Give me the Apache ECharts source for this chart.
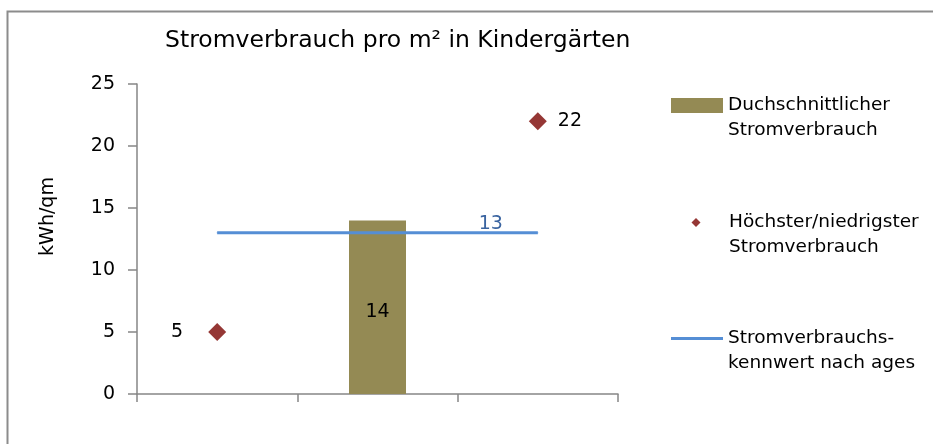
<!DOCTYPE html>
<html>
<head>
<meta charset="utf-8">
<script src="https://cdn.jsdelivr.net/npm/echarts@6/dist/echarts.min.js"></script>
<style>
  html, body { margin: 0; padding: 0; background: #fff; }
  #chart { width: 933px; height: 444px; }
</style>
</head>
<body>
<div id="chart"></div>
<script>
// Categories along the x axis (labels are not shown)
const categories = ['Niedrigster', 'Durchschnitt', 'Höchster'];
// Average consumption (bar), kWh/qm
const averageValues = ['-', 14, '-'];
// Lowest / highest consumption (diamonds), kWh/qm
const extremeValues = [5, '-', 22];
// Benchmark value drawn as a horizontal line
const benchmarkValues = [13, 13, 13];
// Y axis range
const yMin = 0, yMax = 25, yStep = 5;

const seriesNames = [
  'Duchschnittlicher Stromverbrauch',
  'Höchster/niedrigster Stromverbrauch',
  'Stromverbrauchs-kennwert nach ages'
];
const legendLines = {
  'Duchschnittlicher Stromverbrauch': ['Duchschnittlicher', 'Stromverbrauch'],
  'Höchster/niedrigster Stromverbrauch': ['Höchster/niedrigster', 'Stromverbrauch'],
  'Stromverbrauchs-kennwert nach ages': ['Stromverbrauchs-', 'kennwert nach ages']
};

const FONT = 'DejaVu Sans';
const AXIS_GREY = '#868686';
const BAR_COLOR = '#948A54';
const DIAMOND_COLOR = '#953735';
const LINE_COLOR = '#558ED5';

// One legend block per series so each icon can have its own size;
// the leading empty line keeps the icon level with the first text line.
function legendFor(name, left, top, icon, w, h, indent) {
  const pad = ' '.repeat(indent || 0);
  return {
    data: [{ name: name, icon: icon }],
    orient: 'vertical',
    left: left,
    top: top,
    padding: 0,
    itemWidth: w,
    itemHeight: h,
    formatter: n => '\n' + legendLines[n].map(s => pad + s).join('\n'),
    textStyle: {
      fontFamily: FONT,
      fontSize: 18.5,
      color: '#000',
      lineHeight: 25
    },
    selectedMode: false
  };
}

const chart = echarts.init(document.getElementById('chart'), null, { renderer: 'canvas' });

const extremeData = extremeValues.map((v, i) => {
  if (v === '-') return '-';
  return {
    value: v,
    label: i === 0
      ? { show: true, position: 'left', distance: 25 }
      : { show: true, position: 'right', distance: 11 }
  };
});

const benchmarkData = benchmarkValues.map((v, i) => {
  if (i !== benchmarkValues.length - 1) return v;
  return {
    value: v,
    label: {
      show: true,
      position: 'top',
      distance: 0,
      offset: [-47, 1],
      color: '#3A64A0',
      fontFamily: FONT,
      fontSize: 19
    }
  };
});

chart.setOption({
  animation: false,
  backgroundColor: '#fff',
  title: {
    text: 'Stromverbrauch pro m² in Kindergärten',
    left: 165,
    top: 29,
    padding: 0,
    textStyle: { fontFamily: FONT, fontSize: 23.5, fontWeight: 'normal', color: '#000' }
  },
  graphic: [{
    type: 'polyline',
    silent: true,
    shape: { points: [[7.5, 444], [7.5, 11.5], [933, 11.5]] },
    style: { stroke: '#8C8C8C', lineWidth: 2, fill: null }
  }],
  legend: [
    legendFor(seriesNames[0], 671, 68, 'rect', 52, 15, 0),
    legendFor(seriesNames[1], 691.5, 185, 'diamond', 9, 9, 4),
    legendFor(seriesNames[2], 671, 301, 'rect', 52, 3, 0)
  ],
  grid: { left: 137, right: 315, top: 84, bottom: 50, containLabel: false },
  xAxis: {
    type: 'category',
    data: categories,
    axisLine: { lineStyle: { color: AXIS_GREY, width: 1.5 } },
    axisTick: { show: true, length: 8, lineStyle: { color: AXIS_GREY, width: 1.5 } },
    axisLabel: { show: false },
    splitLine: { show: false }
  },
  yAxis: {
    type: 'value',
    min: yMin,
    max: yMax,
    interval: yStep,
    name: 'kWh/qm',
    nameLocation: 'middle',
    nameGap: 79,
    nameRotate: 90,
    nameTextStyle: { fontFamily: FONT, fontSize: 19, color: '#000', padding: [0, 0, 0, 45] },
    axisLine: { show: true, lineStyle: { color: AXIS_GREY, width: 1.5 } },
    axisTick: { show: true, length: 9, lineStyle: { color: AXIS_GREY, width: 1.5 } },
    axisLabel: { fontFamily: FONT, fontSize: 19, color: '#000', margin: 22 },
    splitLine: { show: false }
  },
  series: [
    {
      name: seriesNames[0],
      type: 'bar',
      data: averageValues,
      barWidth: 57,
      itemStyle: { color: BAR_COLOR },
      label: {
        show: true,
        position: 'inside',
        offset: [0, 5],
        color: '#000',
        fontFamily: FONT,
        fontSize: 19
      },
      z: 1
    },
    {
      name: seriesNames[2],
      type: 'line',
      data: benchmarkData,
      symbol: 'circle',
      symbolSize: 1,
      showSymbol: true,
      lineStyle: { color: LINE_COLOR, width: 3 },
      itemStyle: { color: LINE_COLOR },
      z: 3
    },
    {
      name: seriesNames[1],
      type: 'scatter',
      data: extremeData,
      symbol: 'diamond',
      symbolSize: 18,
      itemStyle: { color: DIAMOND_COLOR, opacity: 1 },
      label: { color: '#000', fontFamily: FONT, fontSize: 19 },
      z: 4
    }
  ]
});
</script>
</body>
</html>
